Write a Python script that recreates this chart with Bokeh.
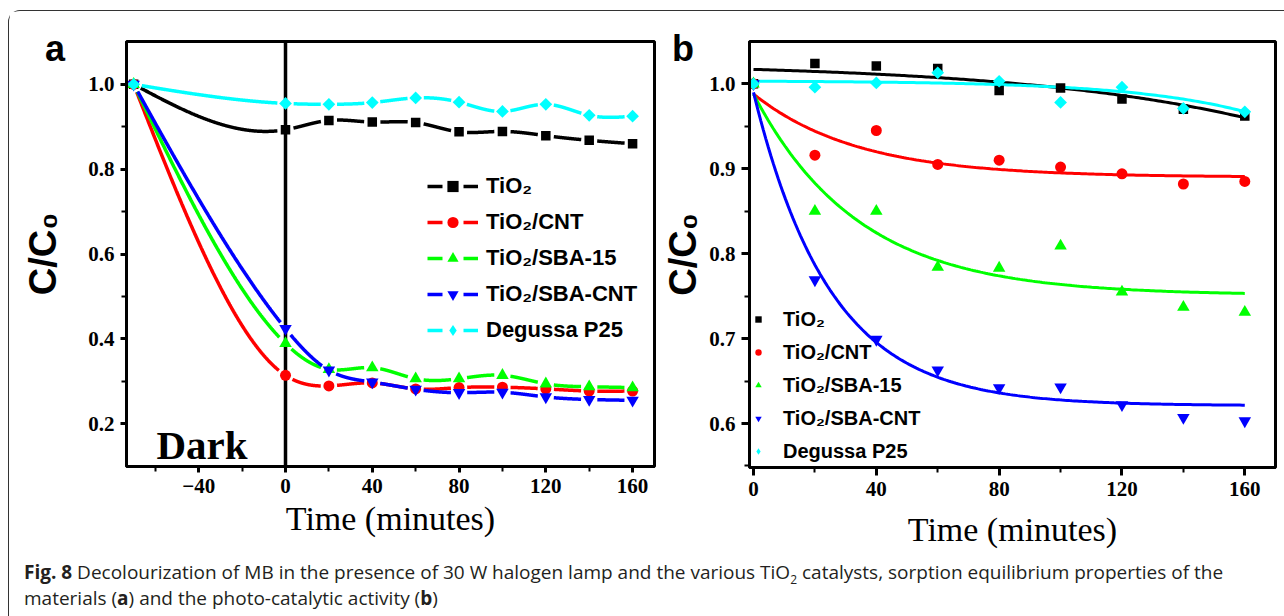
import numpy as np
from bokeh.plotting import figure
from bokeh.models import (Range1d, FixedTicker, Legend, LegendItem, Label, Span, Div,
                          PrintfTickFormatter)
from bokeh.layouts import row, column
from bokeh.embed import file_html
from bokeh.resources import INLINE
from bokeh.core.properties import value

# ---------------- data ----------------
series_names = ["TiO₂", "TiO₂/CNT", "TiO₂/SBA-15", "TiO₂/SBA-CNT", "Degussa P25"]
series_colors = ["#000000", "#ff0000", "#00ff00", "#0000ff", "#00ffff"]
series_markers = ["square", "circle", "triangle", "inverted_triangle", "diamond"]

# panel a: sorption equilibrium (dark, then lamp on at t = 0)
time_a = [-70, 0, 20, 40, 60, 80, 100, 120, 140, 160]
a_tio2 = [1.0, 0.893, 0.915, 0.911, 0.910, 0.888, 0.889, 0.879, 0.868, 0.860]
a_cnt = [1.0, 0.314, 0.289, 0.296, 0.282, 0.285, 0.286, 0.282, 0.277, 0.277]
a_sba15 = [1.0, 0.389, 0.328, 0.332, 0.306, 0.306, 0.314, 0.294, 0.287, 0.285]
a_sbacnt = [1.0, 0.424, 0.326, 0.298, 0.281, 0.273, 0.274, 0.263, 0.257, 0.255]
a_p25 = [1.0, 0.955, 0.953, 0.957, 0.968, 0.958, 0.936, 0.953, 0.927, 0.925]

# panel b: photo-catalytic activity
time_b = [0, 20, 40, 60, 80, 100, 120, 140, 160]
b_tio2 = [1.0, 1.024, 1.021, 1.018, 0.992, 0.995, 0.982, 0.970, 0.962]
b_cnt = [1.0, 0.916, 0.945, 0.905, 0.910, 0.902, 0.894, 0.882, 0.885]
b_sba15 = [1.0, 0.850, 0.850, 0.784, 0.783, 0.809, 0.755, 0.737, 0.731]
b_sbacnt = [1.0, 0.769, 0.699, 0.663, 0.642, 0.643, 0.622, 0.607, 0.603]
b_p25 = [1.0, 0.996, 1.001, 1.013, 1.003, 0.978, 0.996, 0.971, 0.967]

# exponential fit lines of panel b: y = y0 + A * exp(t / tau)
fit_y0 = [1.0253, 0.890, 0.751, 0.621, 1.0036]
fit_A = [-0.00833, 0.098, 0.237, 0.369, -0.000571]
fit_tau = [77.7, -33.8, -34.2, -25.0, 38.5]

xticks_a = [-40, 0, 40, 80, 120, 160]
xminor_a = [-60, -20, 20, 60, 100, 140]
yticks_a = [0.2, 0.4, 0.6, 0.8, 1.0]
yminor_a = [0.3, 0.5, 0.7, 0.9]
xticks_b = [0, 40, 80, 120, 160]
xminor_b = [20, 60, 100, 140]
yticks_b = [0.6, 0.7, 0.8, 0.9, 1.0]
yminor_b = [0.55, 0.65, 0.75, 0.85, 0.95]

a_series = [a_tio2, a_cnt, a_sba15, a_sbacnt, a_p25]
b_series = [b_tio2, b_cnt, b_sba15, b_sbacnt, b_p25]

# ---------------- layout constants ----------------
XA = (-73.3, 170.1); YA = (0.099, 1.101)
XB = (-1.3, 170.0); YB = (0.5482, 1.0498)
FWA, FHA = 528, 425
FWB, FHB = 526, 426

SERIF = "Liberation Serif"
SANS = "Liberation Sans"


def natural_spline(xs, ys, n=300):
    xs = np.asarray(xs, float); ys = np.asarray(ys, float)
    m = len(xs); h = np.diff(xs)
    A = np.zeros((m, m)); r = np.zeros(m)
    A[0, 0] = 1; A[-1, -1] = 1
    for i in range(1, m - 1):
        A[i, i - 1] = h[i - 1]; A[i, i] = 2 * (h[i - 1] + h[i]); A[i, i + 1] = h[i]
        r[i] = 6 * ((ys[i + 1] - ys[i]) / h[i] - (ys[i] - ys[i - 1]) / h[i - 1])
    M = np.linalg.solve(A, r)
    pieces = []
    for i in range(m - 1):
        t = np.linspace(xs[i], xs[i + 1], n)
        hi = h[i]
        s = (M[i] * (xs[i + 1] - t) ** 3 / (6 * hi) + M[i + 1] * (t - xs[i]) ** 3 / (6 * hi)
             + (ys[i] / hi - M[i] * hi / 6) * (xs[i + 1] - t)
             + (ys[i + 1] / hi - M[i + 1] * hi / 6) * (t - xs[i]))
        pieces.append((t, s))
    return pieces


def gapped(xs, ys, kx, ky, gap):
    outx, outy = [], []
    for t, s in natural_spline(xs, ys):
        d = np.hypot(np.diff(t) * kx, np.diff(s) * ky)
        L = np.concatenate([[0], np.cumsum(d)])
        keep = (L >= gap) & (L <= L[-1] - gap)
        if keep.sum() >= 2:
            outx.append(t[keep].tolist()); outy.append(s[keep].tolist())
    return outx, outy


def style(p, tick_out):
    p.xgrid.visible = False
    p.ygrid.visible = False
    p.outline_line_color = "black"
    p.outline_line_width = 3
    p.outline_line_alpha = 1
    p.background_fill_color = "white"
    p.border_fill_color = "white"
    for ax in (p.xaxis[0], p.yaxis[0]):
        ax.axis_line_width = 3
        ax.major_tick_out = tick_out
        ax.major_tick_in = 0
        ax.major_tick_line_width = 3
        ax.minor_tick_out = 5
        ax.minor_tick_in = 0
        ax.minor_tick_line_width = 2
        ax.major_label_text_font = SERIF
        ax.major_label_text_font_style = "bold"
        ax.major_label_text_font_size = "21px"
        ax.major_label_text_color = "black"
        ax.major_label_standoff = 6
    p.yaxis.formatter = PrintfTickFormatter(format="%.1f")
    p.xaxis.axis_label = "Time (minutes)"
    p.xaxis.axis_label_text_font = SERIF
    p.xaxis.axis_label_text_font_style = "normal"
    p.xaxis.axis_label_text_font_size = "34px"
    p.xaxis.axis_label_text_color = "black"
    p.yaxis.axis_label = "C/C₀"
    p.yaxis.axis_label_text_font = SANS
    p.yaxis.axis_label_text_font_style = "bold"
    p.yaxis.axis_label_text_font_size = "38px"
    p.yaxis.axis_label_text_color = "black"


def add_markers(p, x, y, i):
    """Returns (plot renderer, renderer used for the legend swatch)."""
    mk = series_markers[i]
    kw = dict(color=series_colors[i], line_width=0)
    if mk == "diamond":
        r = p.scatter(x, y, marker="square", angle=np.pi / 4, size=9, **kw)
        swatch = p.scatter(x=[np.nan], y=[np.nan], marker="diamond", size=14, **kw)
        return r, swatch
    sizes = {"square": 9.5, "circle": 11, "triangle": 12.5, "inverted_triangle": 12.5}
    r = p.scatter(x, y, marker=mk, size=sizes[mk], **kw)
    return r, r


# ---------------- panel a ----------------
pa = figure(frame_width=FWA, frame_height=FHA, x_range=Range1d(*XA), y_range=Range1d(*YA),
            min_border_left=117, min_border_right=5, min_border_top=30, min_border_bottom=88,
            output_backend="svg", toolbar_location=None)
style(pa, 6)
pa.xaxis.ticker = FixedTicker(ticks=xticks_a, minor_ticks=xminor_a)
pa.yaxis.ticker = FixedTicker(ticks=yticks_a, minor_ticks=yminor_a)
pa.xaxis.axis_label_standoff = 4
pa.yaxis.axis_label_standoff = 21

pa.add_layout(Span(location=0, dimension="height", line_color="black", line_width=3.5,
                   level="underlay"))

kxa = FWA / (XA[1] - XA[0]); kya = FHA / (YA[1] - YA[0])
items_a = []
for i, ys in enumerate(a_series):
    gx, gy = gapped(time_a, ys, kxa, kya, 8)
    pa.multi_line(gx, gy, line_color=series_colors[i], line_width=3.5)
    sc, sw = add_markers(pa, time_a, ys, i)
    dummy = pa.line(x=[np.nan], y=[np.nan], line_color=series_colors[i], line_width=3.5,
                    line_dash="15 21")
    items_a.append(LegendItem(label=value(series_names[i]), renderers=[dummy, sw]))

leg_a = Legend(items=items_a, location=(301, 122), glyph_width=51, glyph_height=28,
               label_height=20, label_standoff=8, spacing=8, padding=0, margin=0,
               border_line_color=None, background_fill_alpha=0,
               label_text_font=SANS, label_text_font_style="bold",
               label_text_font_size="22px", label_text_color="black")
pa.add_layout(leg_a)

pa.add_layout(Label(x=30, y=22, x_units="screen", y_units="screen", text="Dark",
                    text_font=SERIF, text_font_style="bold", text_font_size="41px",
                    text_color="black", text_baseline="alphabetic"))

# ---------------- panel b ----------------
pb = figure(frame_width=FWB, frame_height=FHB, x_range=Range1d(*XB), y_range=Range1d(*YB),
            min_border_left=87, min_border_right=10, min_border_top=30, min_border_bottom=87,
            output_backend="svg", toolbar_location=None)
style(pb, 8)
pb.xaxis.ticker = FixedTicker(ticks=xticks_b, minor_ticks=xminor_b)
pb.yaxis.ticker = FixedTicker(ticks=yticks_b, minor_ticks=yminor_b)
pb.xaxis.axis_label_standoff = 12
pb.yaxis.axis_label_standoff = 2

tt = np.linspace(0, 160, 200)
for i in range(5):
    fy = fit_y0[i] + fit_A[i] * np.exp(tt / fit_tau[i])
    pb.line(tt, fy, line_color=series_colors[i], line_width=3)
items_b = []
for i, ys in enumerate(b_series):
    sc, sw = add_markers(pb, time_b, ys, i)
    items_b.append(LegendItem(label=value(series_names[i]), renderers=[sw]))

leg_b = Legend(items=items_b, location=(1, 3), glyph_width=16, glyph_height=26,
               label_height=20, label_standoff=17, spacing=7, padding=0, margin=0,
               border_line_color=None, background_fill_alpha=0,
               label_text_font=SANS, label_text_font_style="bold",
               label_text_font_size="20px", label_text_color="black")
pb.add_layout(leg_b)

# ---------------- panel letters and caption ----------------
letter_style = {"position": "absolute", "top": "15px", "font-family": "Liberation Sans",
                "font-weight": "bold", "font-size": "36px", "line-height": "36px",
                "color": "black"}
div_a = Div(text="a", width=30, height=40, styles=dict(letter_style, left="31px"))
div_b = Div(text="b", width=30, height=40, styles=dict(letter_style, left="658px"))

caption_html = (
    '<div style="font-family: \'Open Sans\'; font-size: 19px; line-height: 26px; '
    'color: #231f20; padding-left: 10px; white-space: nowrap;">'
    '<b>Fig. 8</b> Decolourization of MB in the presence of 30 W halogen lamp and the various '
    'TiO<span style="font-size: 12px; position: relative; top: 5px; line-height: 0;">2</span>'
    ' catalysts, sorption equilibrium properties of the<br>'
    'materials (<b>a</b>) and the photo-catalytic activity (<b>b</b>)</div>'
)
cap = Div(text=caption_html, width=1260, height=54)

layout = column(row(pa, pb), cap, div_a, div_b, margin=(10, 0, 0, 8),
                styles={"border-top": "1.5px solid #333", "border-left": "1.5px solid #333",
                        "border-top-left-radius": "12px", "background": "white",
                        "position": "relative"})

open("out.html", "w").write(file_html(layout, INLINE))
